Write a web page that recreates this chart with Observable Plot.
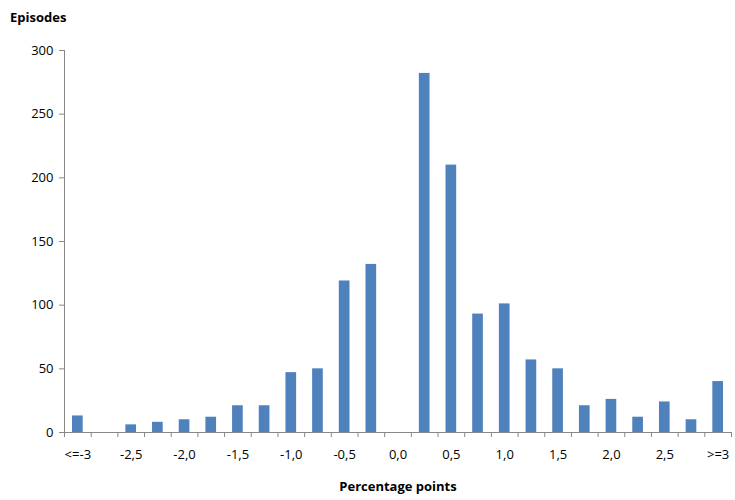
<!DOCTYPE html>
<html><head><meta charset="utf-8">
<script src="https://cdn.jsdelivr.net/npm/d3@7"></script>
<script src="https://cdn.jsdelivr.net/npm/@observablehq/plot@0.6"></script>
<style>body{margin:0;background:#fff;font-family:"Open Sans",sans-serif}
#title{font-weight:bold;font-size:13px;padding:8px 0 0 10px;height:22px}</style>
</head><body>
<div id="title">Episodes</div>
<div id="chart"></div>
<script>
// categories in steps of 0.25 from -3 to 3
const bins = [-3,-2.75,-2.5,-2.25,-2,-1.75,-1.5,-1.25,-1,-0.75,-0.5,-0.25,0,0.25,0.5,0.75,1,1.25,1.5,1.75,2,2.25,2.5,2.75,3]
const episodes = [13,0,6,8,10,12,21,21,47,50,119,132,0,282,210,93,101,57,50,21,26,12,24,10,40]
const data = bins.map((b,i)=>({bin:b, n:episodes[i]}))
const halfBar = 0.05
const edges = [bins[0] - 0.125, ...bins.map(b => b + 0.125)]

const fmt = d => d === -3 ? "<=-3" : d === 3 ? ">=3" : d3.format(".1f")(d).replace(".", ",").replace("−","-")

let chart = Plot.plot({
    width: 735,
    height: 470,
    marginLeft: 64,
    marginRight: 4,
    marginTop: 20,
    marginBottom: 68,
    style: {fontFamily: "Open Sans, sans-serif", fontSize: 13, color: "#000"},
    x: {domain: [-3.125, 3.125]},
    y: {domain: [0,300]},
    marks: [
        Plot.rectY(data, {x1: d => d.bin - halfBar, x2: d => d.bin + halfBar, y: "n", fill: "#4f81bd"}),
        Plot.axisY({ticks: [0,50,100,150,200,250,300], tickSize: 5, tickPadding: 6, label: null, stroke: "#888"}),
        Plot.axisX({ticks: edges, tickSize: 5, tickFormat: () => "", stroke: "#888", label: null}),
        Plot.axisX({ticks: bins.filter((d,i)=>i%2==0), tickFormat: fmt, tickSize: 0, tickPadding: 17,
            label: "Percentage points", labelAnchor: "center", labelArrow: "none", labelOffset: 58}),
        Plot.ruleX([-3.125], {stroke: "#888"}),
        Plot.ruleY([0], {stroke: "#888"})
    ]
})
d3.select("#chart").append(() => chart)
d3.select(chart).selectAll("[aria-label='x-axis label'] text").style("font-weight","bold")
</script>
</body></html>
